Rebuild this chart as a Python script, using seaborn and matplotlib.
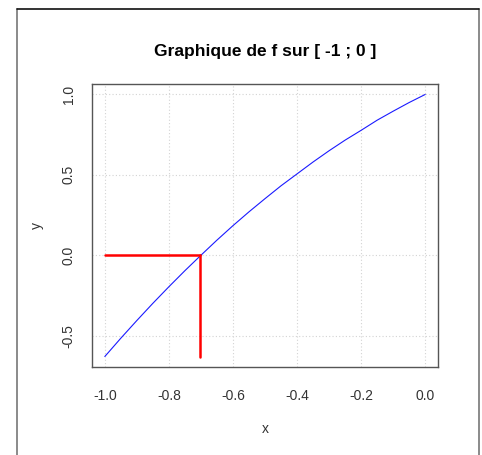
import matplotlib
matplotlib.use("Agg")
import matplotlib.pyplot as plt
from matplotlib.lines import Line2D
import pandas as pd
import seaborn as sns

# Values of f read on [-1 ; 0]
x_vals = [-1.0, -0.95, -0.9, -0.85, -0.8, -0.75, -0.7, -0.65, -0.6, -0.55, -0.5,
          -0.45, -0.4, -0.35, -0.3, -0.25, -0.2, -0.15, -0.1, -0.05, 0.0]
f_vals = [-0.63, -0.516, -0.406, -0.299, -0.196, -0.096, 0.0, 0.094, 0.184, 0.270, 0.352,
          0.432, 0.506, 0.580, 0.650, 0.716, 0.777, 0.840, 0.896, 0.950, 1.0]

# Zero of f and the construction lines that show it
root_x = -0.704
f_min = -0.63

x_ticks = [-1.0, -0.8, -0.6, -0.4, -0.2, 0.0]
y_ticks = [-0.5, 0.0, 0.5, 1.0]

sns.set_style("white")
plt.rcParams["font.family"] = ["Liberation Sans", "DejaVu Sans"]

fig = plt.figure(figsize=(4.82, 4.55), dpi=100)
ax = fig.add_axes([92 / 482, 1 - 367 / 455, (438 - 92) / 482, (367 - 84) / 455])

curve = pd.DataFrame({"x": x_vals, "y": f_vals})
sns.lineplot(data=curve, x="x", y="y", ax=ax, color="#1a1aff", linewidth=0.8,
             sort=True, estimator=None)

horiz = pd.DataFrame({"x": [x_vals[0], root_x], "y": [0.0, 0.0]})
vert = pd.DataFrame({"x": [root_x, root_x], "y": [0.0, f_min]})
sns.lineplot(data=horiz, x="x", y="y", ax=ax, color="#ff0000", linewidth=1.8, estimator=None)
sns.lineplot(data=vert, x="x", y="y", ax=ax, color="#ff0000", linewidth=1.8, estimator=None)

# R-style 4% extension of the data range
xr = x_vals[-1] - x_vals[0]
ax.set_xlim(x_vals[0] - 0.04 * xr, x_vals[-1] + 0.04 * xr)
yr = max(f_vals) - min(f_vals)
ax.set_ylim(min(f_vals) - 0.04 * yr, max(f_vals) + 0.04 * yr)

ax.set_xticks(x_ticks)
ax.set_yticks(y_ticks)
ax.set_xticklabels([f"{v:.1f}" for v in x_ticks])
ax.set_yticklabels([f"{v:.1f}" for v in y_ticks], rotation=90, va="center")

ax.grid(True, color="#d3d3d3", linestyle=(0, (1, 2)), linewidth=0.8)
ax.set_axisbelow(True)

for s in ax.spines.values():
    s.set_color("#555555")
    s.set_linewidth(1.0)

ax.tick_params(axis="both", direction="out", length=5.8, width=1.0, color="#555555",
               labelsize=10, labelcolor="#333333")
ax.tick_params(axis="x", pad=10)
ax.tick_params(axis="y", pad=6)

ax.set_xlabel("x", fontsize=10, color="#333333", labelpad=14)
ax.set_ylabel("y", fontsize=10, color="#333333", labelpad=13)
ax.set_title("Graphique de f sur [ -1 ; 0 ]", fontsize=12.5, fontweight="bold",
             color="#000000", pad=20)

# Outer frame around the figure
fig.add_artist(Line2D([16.5 / 482, 16.5 / 482], [0, 1 - 9 / 455], transform=fig.transFigure,
                      color="#777777", linewidth=1.2))
fig.add_artist(Line2D([478.7 / 482, 478.7 / 482], [0, 1 - 9 / 455], transform=fig.transFigure,
                      color="#777777", linewidth=1.2))
fig.add_artist(Line2D([16.5 / 482, 478.7 / 482], [1 - 9 / 455, 1 - 9 / 455],
                      transform=fig.transFigure, color="#111111", linewidth=1.2))

fig.savefig("out.png", dpi=100)
